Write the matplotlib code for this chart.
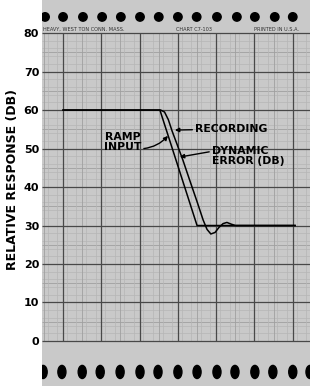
import matplotlib
matplotlib.use('agg')
import matplotlib.pyplot as plt
from matplotlib.patches import Ellipse, Rectangle
import numpy as np

# chart data (time in chart divisions, level in dB)
ramp_t = [0.0, 2.53, 3.50, 6.06]
ramp_db = [60, 60, 30, 30]

rec_t = [0.0, 2.55, 2.65, 2.75, 2.85, 3.0, 3.13, 3.3, 3.5, 3.66, 3.76, 3.86,
         3.97, 4.08, 4.18, 4.28, 4.38, 4.5, 6.06]
rec_db = [60, 60, 59.5, 57.5, 54.5, 50.5, 47, 42, 36.2, 31.4, 29, 27.8,
          28.2, 29.6, 30.5, 30.8, 30.4, 30, 30]

yticks = [0, 10, 20, 30, 40, 50, 60, 70, 80]

top_holes = [-0.47, 0.0, 0.52, 1.02, 1.51, 2.01, 2.5, 3.0, 3.49, 4.02,
             4.54, 5.01, 5.53, 6.0]
bot_holes = [-0.52, -0.03, 0.5, 0.97, 1.49, 2.01, 2.48, 3.0, 3.5, 4.02,
             4.49, 5.01, 5.48, 6.0, 6.45]

fig = plt.figure(figsize=(3.10, 3.86), dpi=100)
ax = fig.add_axes([42 / 310, 0, 1 - 42 / 310, 1])
ax.set_xlim(-0.55, 6.45)
ax.set_ylim(-11.7, 88.6)

# paper
ax.add_patch(Rectangle((-0.55, -11.7), 7.0, 100.3, facecolor='#c9c9c9',
                       edgecolor='none', zorder=0))

# grid: faint fine lines, medium half-divisions, dark main divisions
for v in np.arange(0, 81, 2):
    ax.hlines(v, -0.55, 6.45, color='#b6b6b6', lw=0.5, zorder=1)
for v in np.arange(5, 80, 10):
    ax.hlines(v, -0.55, 6.45, color='#a0a0a0', lw=0.6, zorder=1)
for v in yticks:
    ax.hlines(v, -0.55, 6.45, color='#484848', lw=0.9, zorder=2)
for t in np.arange(-0.4, 6.45, 0.25):
    ax.vlines(t, 0, 80, color='#b6b6b6', lw=0.5, zorder=1)
for t in np.arange(-0.5, 6.45, 0.5):
    ax.vlines(t, 0, 80, color='#a0a0a0', lw=0.6, zorder=1)
for t in range(0, 7):
    ax.vlines(t, 0, 80, color='#484848', lw=0.9, zorder=2)

# sprocket holes
for t in top_holes:
    ax.add_patch(Ellipse((t, 84.2), 0.22, 2.2, color='black', zorder=3))
for t in bot_holes:
    ax.add_patch(Ellipse((t, -8.05), 0.21, 3.4, color='black', zorder=3))

# printed header on the paper
hdr = dict(fontsize=3.6, color='#303030', va='center', zorder=3)
ax.text(-0.53, 81.0, 'HEAVY, WEST TON CONN. MASS.', ha='left', **hdr)
ax.text(2.95, 81.0, 'CHART C7-103', ha='left', **hdr)
ax.text(5.0, 81.0, 'PRINTED IN U.S.A.', ha='left', **hdr)

# traces
ax.plot(ramp_t, ramp_db, color='black', lw=1.1, zorder=4)
ax.plot(rec_t, rec_db, color='black', lw=1.1, zorder=4)

lab = dict(fontsize=7.8, fontweight='bold', color='black', zorder=5)
arr = dict(arrowstyle='-|>', color='black', lw=1.0, mutation_scale=6,
           shrinkA=0, shrinkB=0)
ax.annotate('RECORDING', xy=(2.92, 54.8), xytext=(3.45, 55.1),
            ha='left', va='center', arrowprops=arr, **lab)
ax.annotate('RAMP\nINPUT', xy=(2.74, 53.3), xytext=(1.55, 51.7),
            ha='center', va='center', linespacing=0.95,
            arrowprops=dict(arr, connectionstyle='arc3,rad=0.2',
                            relpos=(1.0, 0.15)), **lab)
ax.annotate('DYNAMIC\nERROR (DB)', xy=(3.05, 47.8), xytext=(3.89, 48.0),
            ha='left', va='center', linespacing=0.95,
            arrowprops=dict(arr, relpos=(0.0, 0.75)), **lab)

ax.set_xticks([])
ax.set_yticks(yticks)
ax.set_yticklabels([str(v) for v in yticks], fontsize=8, fontweight='bold')
ax.tick_params(axis='y', length=0, pad=2)
ax.set_ylabel('RELATIVE RESPONSE (DB)', fontsize=9, fontweight='bold')
ax.yaxis.set_label_coords(-0.085, 0.534)
for s in ax.spines.values():
    s.set_visible(False)

fig.savefig('out.png', dpi=100)
